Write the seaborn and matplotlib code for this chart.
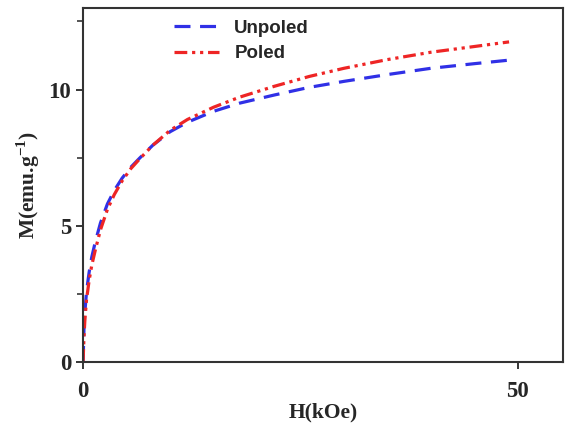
import numpy as np
import pandas as pd
import matplotlib.pyplot as plt
import seaborn as sb
from matplotlib.ticker import MultipleLocator

# field (kOe) and magnetisation (emu/g)
H_unpoled = [0, 0.1, 0.2, 0.4, 0.7, 1.0, 1.4, 2.0, 2.8, 3.6, 4.5, 5.5, 6.5, 8, 10, 12, 15, 18, 22, 26, 30, 35, 40, 45, 49]
M_unpoled = [0, 1.2, 1.8, 2.6, 3.3, 3.85, 4.4, 5.1, 5.8, 6.3, 6.75, 7.15, 7.48, 7.95, 8.45, 8.8, 9.2, 9.5, 9.8, 10.08, 10.3, 10.55, 10.78, 10.95, 11.08]
H_poled = [0, 0.1, 0.2, 0.4, 0.7, 1.0, 1.4, 2.0, 2.8, 3.6, 4.5, 5.5, 6.5, 8, 10, 12, 15, 18, 22, 26, 30, 35, 40, 45, 49]
M_poled = [0, 0.9, 1.5, 2.3, 3.0, 3.55, 4.1, 4.85, 5.6, 6.15, 6.65, 7.1, 7.45, 7.95, 8.5, 8.9, 9.35, 9.72, 10.12, 10.48, 10.78, 11.1, 11.37, 11.58, 11.75]

df = pd.concat([
    pd.DataFrame({'H': H_unpoled, 'M': M_unpoled, 'sample': 'Unpoled'}),
    pd.DataFrame({'H': H_poled, 'M': M_poled, 'sample': 'Poled'}),
])

sb.set_style("ticks")
plt.rcParams['font.family'] = ['Liberation Serif', 'DejaVu Serif']
plt.rcParams['mathtext.fontset'] = 'custom'
plt.rcParams['mathtext.rm'] = 'Liberation Serif:bold'

fig = plt.figure(figsize=(5.73, 4.36), dpi=100)
ax = fig.add_axes([0.145, 0.170, 0.8375, 0.812])

sb.lineplot(data=df, x='H', y='M', hue='sample', style='sample',
            palette={'Unpoled': '#3030e6', 'Poled': '#ee2525'},
            dashes={'Unpoled': (5, 3), 'Poled': (4, 1.5, 1, 1.5, 1, 1.5)},
            linewidth=2.3, sort=False, ax=ax)

ax.set_xlim(0, 55.2)
ax.set_ylim(0, 13)
ax.set_xticks([0, 50])
ax.set_yticks([0, 5, 10])
ax.yaxis.set_minor_locator(MultipleLocator(2.5))
ax.tick_params(axis='both', which='major', length=5, width=1.3, labelsize=16.5, direction='out')
ax.tick_params(axis='x', which='major', pad=9)
ax.tick_params(axis='y', which='minor', length=4, width=1.1, direction='out')
for lab in ax.get_xticklabels() + ax.get_yticklabels():
    lab.set_fontweight('bold')
for sp in ax.spines.values():
    sp.set_color('#333333')
    sp.set_linewidth(1.5)

ax.set_xlabel('H(kOe)', fontsize=15.5, fontweight='bold', labelpad=0)
ax.set_ylabel(r'M(emu.g$^{\mathrm{-1}}$)', fontsize=15.5, fontweight='bold', labelpad=5)

leg = ax.legend(loc='upper left', bbox_to_anchor=(0.155, 1.015), frameon=False,
                handlelength=2.4, handletextpad=0.8, labelspacing=0.45,
                prop={'family': 'Liberation Sans', 'weight': 'bold', 'size': 13.5})

fig.savefig('out.png', dpi=100)
